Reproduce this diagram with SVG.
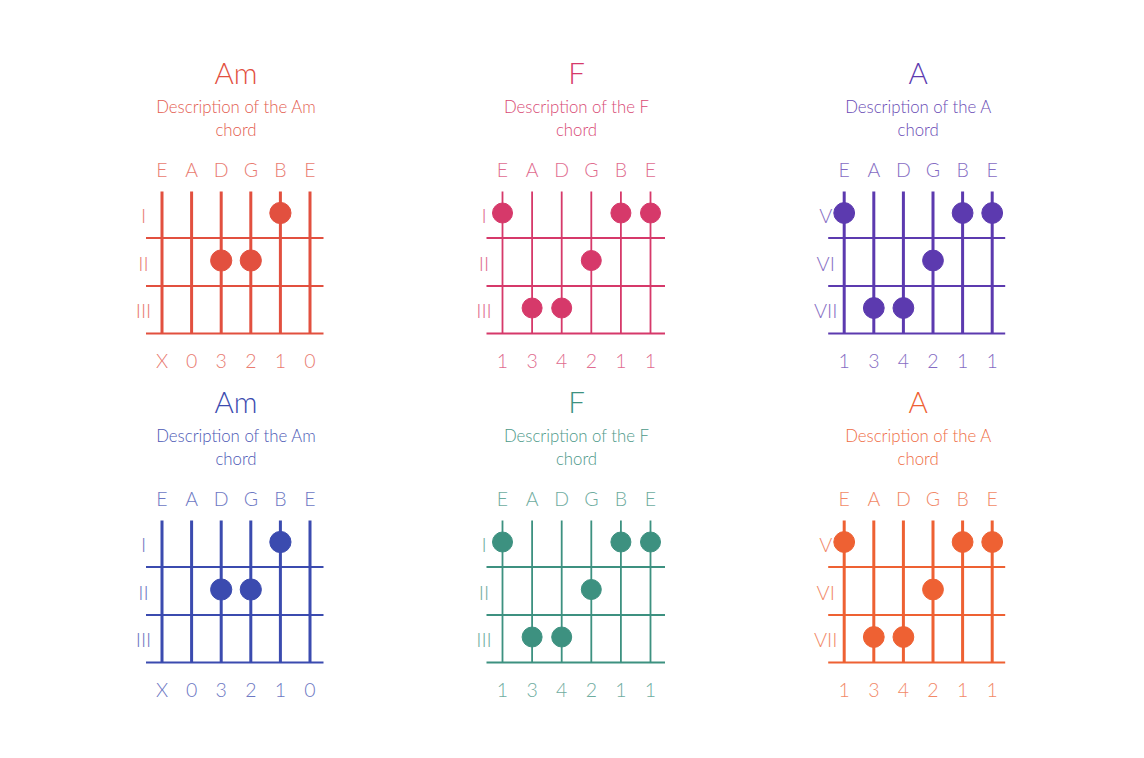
<svg xmlns="http://www.w3.org/2000/svg" width="1144" height="758" viewBox="0 0 1144 758">
<style>
text{font-family:"Lato","Open Sans","Liberation Sans",sans-serif;font-weight:300;text-anchor:middle;stroke:none}
.title{font-size:29.5px}
.desc{font-size:16.8px;opacity:.92}
.lbl{font-size:19.5px;opacity:.75}
.fret-lbl{font-size:20px;opacity:.75;text-anchor:end}
.fret{stroke-width:2;fill:none}
.str{fill:none}
.thick .str{stroke-width:3}
.thin .str{stroke-width:1.8}
.red{fill:#E2503F;stroke:#E2503F}
.crimson{fill:#D6396A;stroke:#D6396A}
.purple{fill:#5C3AAF;stroke:#5C3AAF}
.blue{fill:#3B4BAF;stroke:#3B4BAF}
.teal{fill:#3D9180;stroke:#3D9180}
.orange{fill:#EE6133;stroke:#EE6133}
</style>
<rect width="1144" height="758" fill="#ffffff"/>

<!-- Am red -->
<g id="chord-am-top" class="red thick" transform="translate(162,0)">
  <text class="title" x="74" y="84">Am</text>
  <text class="desc" x="74" y="112.5">Description of the Am</text>
  <text class="desc" x="74" y="135.5">chord</text>
  <g class="lbl"><text x="0" y="176.5">E</text><text x="29.6" y="176.5">A</text><text x="59.2" y="176.5">D</text><text x="88.8" y="176.5">G</text><text x="118.4" y="176.5">B</text><text x="148" y="176.5">E</text></g>
  <g class="fret-lbl"><text x="-18.5" y="223">I</text><text x="-18.5" y="270.5">II</text><text x="-18.5" y="318">III</text></g>
  <path class="fret" d="M-16 238H161.5M-16 286H161.5M-16 333.5H161.5"/>
  <path class="str" d="M0 191.5V333.5M29.6 191.5V333.5M59.2 191.5V333.5M88.8 191.5V333.5M118.4 191.5V333.5M148 191.5V333.5"/>
  <circle cx="118.4" cy="213" r="10.6"/><circle cx="59.2" cy="260.5" r="10.6"/><circle cx="88.8" cy="260.5" r="10.6"/>
  <g class="lbl"><text x="0" y="368">X</text><text x="29.6" y="368">0</text><text x="59.2" y="368">3</text><text x="88.8" y="368">2</text><text x="118.4" y="368">1</text><text x="148" y="368">0</text></g>
</g>

<!-- F crimson -->
<g id="chord-f-top" class="crimson thin" transform="translate(502.5,0)">
  <text class="title" x="74" y="84">F</text>
  <text class="desc" x="74" y="112.5">Description of the F</text>
  <text class="desc" x="74" y="135.5">chord</text>
  <g class="lbl"><text x="0" y="176.5">E</text><text x="29.6" y="176.5">A</text><text x="59.2" y="176.5">D</text><text x="88.8" y="176.5">G</text><text x="118.4" y="176.5">B</text><text x="148" y="176.5">E</text></g>
  <g class="fret-lbl"><text x="-18.5" y="223">I</text><text x="-18.5" y="270.5">II</text><text x="-18.5" y="318">III</text></g>
  <path class="fret" d="M-16 238H162.5M-16 286H162.5M-16 333.5H162.5"/>
  <path class="str" d="M0 191.5V333.5M29.6 191.5V333.5M59.2 191.5V333.5M88.8 191.5V333.5M118.4 191.5V333.5M148 191.5V333.5"/>
  <circle cx="0" cy="213" r="10"/><circle cx="118.4" cy="213" r="10"/><circle cx="148" cy="213" r="10"/>
  <circle cx="88.8" cy="260.5" r="10"/>
  <circle cx="29.6" cy="308" r="10"/><circle cx="59.2" cy="308" r="10"/>
  <g class="lbl"><text x="0" y="368">1</text><text x="29.6" y="368">3</text><text x="59.2" y="368">4</text><text x="88.8" y="368">2</text><text x="118.4" y="368">1</text><text x="148" y="368">1</text></g>
</g>

<!-- A purple -->
<g id="chord-a-top" class="purple thick" transform="translate(844.2,0)">
  <text class="title" x="74" y="84">A</text>
  <text class="desc" x="74" y="112.5">Description of the A</text>
  <text class="desc" x="74" y="135.5">chord</text>
  <g class="lbl"><text x="0" y="176.5">E</text><text x="29.6" y="176.5">A</text><text x="59.2" y="176.5">D</text><text x="88.8" y="176.5">G</text><text x="118.4" y="176.5">B</text><text x="148" y="176.5">E</text></g>
  <g class="fret-lbl"><text x="-18.5" y="223">V</text><text x="-18.5" y="270.5">VI</text><text x="-18.5" y="318">VII</text></g>
  <path class="fret" d="M-16 238H161M-16 286H161M-16 333.5H161"/>
  <path class="str" d="M0 191.5V333.5M29.6 191.5V333.5M59.2 191.5V333.5M88.8 191.5V333.5M118.4 191.5V333.5M148 191.5V333.5"/>
  <circle cx="0" cy="213" r="10.4"/><circle cx="118.4" cy="213" r="10.4"/><circle cx="148" cy="213" r="10.4"/>
  <circle cx="88.8" cy="260.5" r="10.4"/>
  <circle cx="29.6" cy="308" r="10.4"/><circle cx="59.2" cy="308" r="10.4"/>
  <g class="lbl"><text x="0" y="368">1</text><text x="29.6" y="368">3</text><text x="59.2" y="368">4</text><text x="88.8" y="368">2</text><text x="118.4" y="368">1</text><text x="148" y="368">1</text></g>
</g>

<!-- Am blue -->
<g id="chord-am-bottom" class="blue thick" transform="translate(162,329)">
  <text class="title" x="74" y="84">Am</text>
  <text class="desc" x="74" y="112.5">Description of the Am</text>
  <text class="desc" x="74" y="135.5">chord</text>
  <g class="lbl"><text x="0" y="176.5">E</text><text x="29.6" y="176.5">A</text><text x="59.2" y="176.5">D</text><text x="88.8" y="176.5">G</text><text x="118.4" y="176.5">B</text><text x="148" y="176.5">E</text></g>
  <g class="fret-lbl"><text x="-18.5" y="223">I</text><text x="-18.5" y="270.5">II</text><text x="-18.5" y="318">III</text></g>
  <path class="fret" d="M-16 238H161.5M-16 286H161.5M-16 333.5H161.5"/>
  <path class="str" d="M0 191.5V333.5M29.6 191.5V333.5M59.2 191.5V333.5M88.8 191.5V333.5M118.4 191.5V333.5M148 191.5V333.5"/>
  <circle cx="118.4" cy="213" r="10.6"/><circle cx="59.2" cy="260.5" r="10.6"/><circle cx="88.8" cy="260.5" r="10.6"/>
  <g class="lbl"><text x="0" y="368">X</text><text x="29.6" y="368">0</text><text x="59.2" y="368">3</text><text x="88.8" y="368">2</text><text x="118.4" y="368">1</text><text x="148" y="368">0</text></g>
</g>

<!-- F teal -->
<g id="chord-f-bottom" class="teal thin" transform="translate(502.5,329)">
  <text class="title" x="74" y="84">F</text>
  <text class="desc" x="74" y="112.5">Description of the F</text>
  <text class="desc" x="74" y="135.5">chord</text>
  <g class="lbl"><text x="0" y="176.5">E</text><text x="29.6" y="176.5">A</text><text x="59.2" y="176.5">D</text><text x="88.8" y="176.5">G</text><text x="118.4" y="176.5">B</text><text x="148" y="176.5">E</text></g>
  <g class="fret-lbl"><text x="-18.5" y="223">I</text><text x="-18.5" y="270.5">II</text><text x="-18.5" y="318">III</text></g>
  <path class="fret" d="M-16 238H162.5M-16 286H162.5M-16 333.5H162.5"/>
  <path class="str" d="M0 191.5V333.5M29.6 191.5V333.5M59.2 191.5V333.5M88.8 191.5V333.5M118.4 191.5V333.5M148 191.5V333.5"/>
  <circle cx="0" cy="213" r="10"/><circle cx="118.4" cy="213" r="10"/><circle cx="148" cy="213" r="10"/>
  <circle cx="88.8" cy="260.5" r="10"/>
  <circle cx="29.6" cy="308" r="10"/><circle cx="59.2" cy="308" r="10"/>
  <g class="lbl"><text x="0" y="368">1</text><text x="29.6" y="368">3</text><text x="59.2" y="368">4</text><text x="88.8" y="368">2</text><text x="118.4" y="368">1</text><text x="148" y="368">1</text></g>
</g>

<!-- A orange -->
<g id="chord-a-bottom" class="orange thick" transform="translate(844.2,329)">
  <text class="title" x="74" y="84">A</text>
  <text class="desc" x="74" y="112.5">Description of the A</text>
  <text class="desc" x="74" y="135.5">chord</text>
  <g class="lbl"><text x="0" y="176.5">E</text><text x="29.6" y="176.5">A</text><text x="59.2" y="176.5">D</text><text x="88.8" y="176.5">G</text><text x="118.4" y="176.5">B</text><text x="148" y="176.5">E</text></g>
  <g class="fret-lbl"><text x="-18.5" y="223">V</text><text x="-18.5" y="270.5">VI</text><text x="-18.5" y="318">VII</text></g>
  <path class="fret" d="M-16 238H161M-16 286H161M-16 333.5H161"/>
  <path class="str" d="M0 191.5V333.5M29.6 191.5V333.5M59.2 191.5V333.5M88.8 191.5V333.5M118.4 191.5V333.5M148 191.5V333.5"/>
  <circle cx="0" cy="213" r="10.4"/><circle cx="118.4" cy="213" r="10.4"/><circle cx="148" cy="213" r="10.4"/>
  <circle cx="88.8" cy="260.5" r="10.4"/>
  <circle cx="29.6" cy="308" r="10.4"/><circle cx="59.2" cy="308" r="10.4"/>
  <g class="lbl"><text x="0" y="368">1</text><text x="29.6" y="368">3</text><text x="59.2" y="368">4</text><text x="88.8" y="368">2</text><text x="118.4" y="368">1</text><text x="148" y="368">1</text></g>
</g>
</svg>
